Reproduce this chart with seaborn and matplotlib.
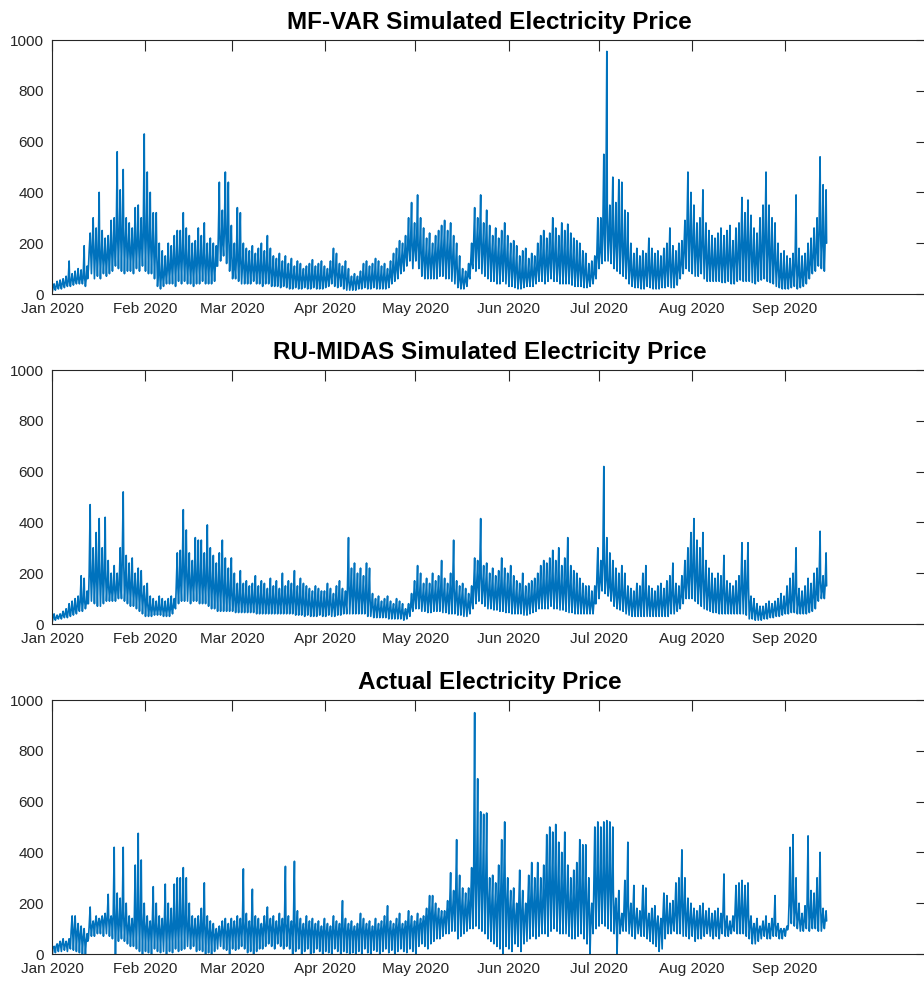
import numpy as np
import pandas as pd
import matplotlib
matplotlib.use("Agg")
import matplotlib.pyplot as plt
import matplotlib.dates as mdates
import seaborn as sns

# Hourly price series, 1 Jan 2020 .. 14 Sep 2020 (258 days), summarised per day:
# *_low  = overnight minimum, *_body = usual daytime level, *_high = daily peak
mfvar_high = [
    40, 50, 55, 60, 70, 130, 80, 90, 100, 95,
    190, 110, 240, 300, 260, 400, 250, 220, 230, 290,
    300, 560, 410, 490, 300, 280, 260, 340, 350, 300,
    630, 480, 400, 320, 320, 200, 170, 150, 200, 190,
    230, 250, 250, 320, 260, 230, 200, 210, 260, 230,
    280, 200, 220, 200, 190, 440, 330, 480, 440, 270,
    200, 340, 320, 200, 180, 170, 190, 160, 180, 200,
    170, 230, 180, 150, 140, 160, 130, 150, 120, 140,
    110, 130, 120, 100, 110, 120, 135, 110, 120, 130,
    110, 100, 130, 180, 160, 120, 110, 130, 100, 70,
    80, 70, 90, 120, 130, 110, 120, 140, 130, 110,
    120, 100, 130, 160, 180, 210, 200, 230, 300, 360,
    280, 390, 300, 260, 220, 240, 200, 230, 250, 270,
    290, 250, 280, 230, 200, 150, 100, 90, 120, 200,
    340, 300, 390, 280, 330, 270, 230, 260, 220, 250,
    280, 230, 200, 210, 190, 150, 170, 180, 140, 160,
    150, 200, 230, 250, 220, 240, 300, 260, 230, 280,
    250, 275, 240, 220, 210, 200, 170, 160, 120, 130,
    150, 300, 300, 550, 955, 350, 460, 360, 450, 440,
    330, 320, 200, 160, 180, 150, 170, 160, 220, 180,
    160, 170, 150, 180, 200, 260, 190, 170, 200, 210,
    290, 480, 400, 350, 280, 300, 410, 280, 250, 230,
    220, 240, 260, 230, 250, 270, 210, 260, 280, 380,
    320, 370, 310, 260, 240, 300, 350, 480, 350, 300,
    280, 200, 160, 170, 150, 140, 160, 390, 180, 150,
    160, 200, 220, 260, 300, 540, 430, 410,
]
mfvar_body = [
    25, 30, 35, 40, 45, 50, 55, 55, 60, 60,
    65, 60, 170, 180, 150, 160, 150, 140, 150, 170,
    180, 220, 230, 230, 200, 180, 170, 190, 200, 190,
    240, 230, 200, 180, 160, 80, 70, 80, 100, 110,
    130, 130, 140, 150, 130, 120, 110, 120, 130, 130,
    130, 120, 120, 110, 110, 230, 200, 250, 220, 150,
    100, 140, 130, 110, 100, 100, 100, 100, 100, 100,
    100, 100, 90, 80, 80, 80, 75, 70, 70, 70,
    65, 60, 60, 60, 60, 60, 60, 65, 60, 60,
    60, 60, 70, 90, 80, 70, 70, 65, 50, 40,
    45, 45, 50, 60, 60, 60, 60, 65, 60, 60,
    60, 60, 70, 90, 100, 120, 130, 150, 180, 200,
    180, 200, 170, 140, 130, 130, 130, 140, 150, 160,
    160, 150, 150, 130, 110, 60, 50, 50, 70, 120,
    200, 190, 210, 170, 180, 160, 140, 140, 130, 130,
    140, 120, 110, 100, 90, 70, 70, 70, 70, 80,
    80, 100, 120, 130, 120, 130, 150, 140, 120, 140,
    130, 130, 120, 110, 100, 100, 90, 80, 60, 70,
    80, 150, 170, 250, 300, 220, 250, 200, 220, 200,
    170, 150, 100, 80, 80, 80, 80, 80, 100, 90,
    80, 80, 80, 90, 100, 120, 100, 90, 100, 120,
    170, 250, 220, 200, 160, 160, 200, 150, 130, 130,
    120, 130, 130, 120, 130, 140, 120, 140, 150, 200,
    180, 190, 170, 140, 130, 160, 180, 220, 170, 150,
    130, 100, 70, 70, 70, 70, 80, 120, 80, 70,
    80, 100, 120, 150, 170, 250, 200, 200,
]
mfvar_low = [
    10, 15, 20, 20, 25, 30, 30, 35, 40, 40,
    40, 30, 100, 80, 60, 70, 60, 80, 70, 80,
    90, 110, 100, 90, 80, 90, 90, 80, 100, 90,
    110, 90, 80, 80, 60, 30, 20, 30, 40, 40,
    40, 30, 50, 40, 50, 40, 40, 30, 40, 40,
    50, 40, 40, 40, 50, 110, 130, 150, 120, 90,
    60, 60, 50, 40, 40, 40, 40, 50, 40, 40,
    30, 40, 40, 30, 30, 30, 25, 30, 25, 20,
    20, 25, 20, 20, 25, 20, 20, 25, 20, 20,
    20, 25, 30, 40, 30, 25, 30, 20, 15, 15,
    15, 15, 20, 20, 25, 20, 20, 25, 20, 20,
    20, 20, 25, 40, 50, 60, 80, 90, 110, 130,
    100, 130, 100, 70, 60, 60, 60, 60, 60, 70,
    70, 60, 60, 50, 40, 25, 20, 20, 30, 60,
    100, 90, 100, 80, 70, 60, 50, 50, 40, 40,
    50, 40, 30, 30, 25, 20, 20, 25, 30, 30,
    30, 40, 50, 50, 40, 50, 60, 50, 50, 40,
    40, 40, 40, 35, 30, 30, 30, 25, 25, 30,
    40, 60, 100, 120, 130, 130, 120, 100, 90, 80,
    70, 60, 40, 30, 25, 25, 20, 20, 30, 25,
    20, 20, 20, 25, 25, 30, 25, 25, 35, 60,
    80, 100, 90, 80, 70, 70, 80, 60, 50, 50,
    50, 50, 50, 45, 45, 50, 40, 40, 50, 55,
    50, 50, 50, 45, 40, 50, 55, 60, 50, 45,
    40, 30, 25, 20, 20, 20, 25, 30, 20, 25,
    30, 40, 60, 80, 90, 110, 100, 90,
]

midas_high = [
    40, 35, 40, 50, 60, 80, 90, 100, 110, 190,
    180, 130, 470, 300, 360, 415, 300, 420, 250, 200,
    230, 200, 300, 520, 270, 240, 260, 200, 220, 210,
    150, 160, 110, 100, 90, 110, 100, 90, 100, 110,
    100, 280, 290, 450, 370, 280, 250, 340, 330, 330,
    280, 390, 300, 270, 240, 280, 330, 260, 220, 260,
    200, 160, 210, 160, 170, 150, 160, 190, 150, 170,
    160, 140, 180, 150, 170, 140, 200, 150, 170, 160,
    210, 150, 180, 160, 150, 140, 130, 150, 140, 130,
    130, 160, 140, 120, 150, 170, 140, 130, 340, 220,
    240, 200, 220, 190, 240, 220, 120, 100, 110, 90,
    100, 110, 90, 80, 100, 90, 80, 60, 80, 120,
    170, 230, 200, 160, 180, 160, 200, 170, 190, 250,
    180, 160, 200, 330, 170, 150, 160, 140, 120, 150,
    260, 250, 415, 230, 240, 200, 220, 190, 210, 260,
    220, 200, 230, 190, 170, 160, 200, 150, 160, 170,
    180, 200, 230, 250, 240, 260, 290, 250, 300, 230,
    260, 340, 230, 210, 200, 180, 160, 150, 150, 130,
    150, 300, 250, 620, 340, 280, 250, 220, 200, 230,
    200, 150, 140, 130, 160, 150, 200, 230, 150, 140,
    130, 150, 160, 140, 170, 190, 240, 160, 150, 190,
    250, 300, 360, 415, 330, 300, 360, 250, 220, 200,
    180, 200, 190, 270, 170, 160, 150, 170, 190, 320,
    250, 320, 110, 100, 80, 70, 70, 80, 90, 80,
    90, 100, 120, 110, 150, 180, 200, 300, 140, 130,
    150, 180, 160, 200, 220, 365, 190, 280,
]
midas_body = [
    25, 25, 30, 35, 40, 50, 55, 60, 70, 90,
    90, 80, 200, 180, 180, 200, 170, 190, 150, 130,
    140, 140, 160, 250, 160, 150, 150, 130, 130, 120,
    100, 80, 60, 60, 60, 60, 60, 55, 60, 60,
    70, 150, 160, 220, 200, 170, 160, 180, 180, 170,
    160, 180, 160, 150, 140, 140, 150, 130, 120, 120,
    100, 90, 100, 90, 90, 90, 90, 95, 90, 90,
    90, 85, 90, 90, 90, 85, 95, 85, 90, 90,
    95, 85, 90, 85, 80, 80, 75, 80, 75, 75,
    75, 80, 80, 70, 80, 85, 80, 80, 150, 120,
    120, 110, 110, 100, 110, 100, 70, 60, 60, 55,
    55, 60, 55, 50, 55, 50, 45, 40, 50, 70,
    100, 120, 110, 100, 100, 95, 110, 100, 110, 120,
    100, 95, 110, 140, 100, 90, 90, 80, 70, 90,
    150, 150, 190, 140, 140, 120, 120, 110, 120, 130,
    120, 110, 120, 100, 95, 90, 100, 85, 85, 95,
    100, 110, 120, 130, 130, 140, 150, 140, 150, 130,
    130, 160, 120, 110, 100, 100, 90, 85, 80, 75,
    80, 170, 170, 250, 180, 150, 140, 120, 110, 120,
    110, 90, 80, 75, 85, 80, 100, 110, 80, 75,
    75, 80, 85, 80, 90, 100, 120, 90, 90, 110,
    150, 170, 200, 220, 180, 160, 180, 140, 120, 110,
    100, 110, 105, 130, 100, 95, 90, 95, 100, 150,
    130, 150, 60, 55, 45, 40, 40, 45, 50, 50,
    55, 60, 65, 65, 80, 90, 100, 130, 80, 75,
    80, 90, 90, 110, 120, 170, 130, 150,
]
midas_low = [
    10, 15, 20, 20, 25, 25, 30, 35, 40, 50,
    50, 60, 80, 90, 80, 70, 70, 80, 90, 90,
    90, 90, 100, 100, 90, 80, 70, 70, 60, 50,
    40, 30, 30, 30, 35, 35, 35, 30, 30, 30,
    40, 60, 80, 90, 90, 90, 80, 90, 90, 80,
    80, 80, 70, 60, 60, 50, 50, 50, 50, 50,
    50, 45, 45, 45, 45, 45, 45, 45, 40, 40,
    40, 40, 40, 40, 40, 40, 40, 40, 40, 40,
    40, 35, 35, 35, 30, 35, 30, 30, 30, 35,
    30, 30, 35, 30, 30, 35, 35, 40, 40, 40,
    40, 40, 40, 40, 40, 30, 30, 25, 25, 25,
    25, 25, 20, 20, 20, 20, 20, 15, 20, 30,
    50, 60, 60, 50, 50, 45, 45, 50, 50, 50,
    45, 45, 40, 40, 40, 35, 35, 30, 30, 40,
    60, 80, 90, 80, 70, 60, 60, 55, 55, 50,
    50, 45, 45, 40, 40, 40, 40, 35, 35, 40,
    45, 50, 60, 60, 60, 60, 70, 60, 60, 55,
    55, 50, 45, 45, 40, 40, 40, 40, 40, 40,
    40, 80, 100, 130, 120, 110, 90, 70, 60, 55,
    50, 40, 35, 30, 30, 30, 30, 30, 30, 30,
    30, 30, 30, 30, 30, 30, 40, 40, 50, 60,
    80, 100, 100, 100, 90, 80, 70, 60, 55, 50,
    45, 45, 40, 40, 40, 40, 40, 40, 40, 40,
    40, 35, 20, 20, 15, 15, 15, 20, 20, 25,
    25, 30, 30, 35, 40, 40, 45, 45, 40, 40,
    40, 40, 45, 50, 60, 90, 100, 100,
]

actual_high = [
    30, 40, 50, 60, 50, 60, 150, 150, 120, 110,
    100, 80, 185, 130, 150, 140, 150, 160, 235, 150,
    420, 240, 220, 420, 200, 150, 140, 350, 475, 370,
    200, 150, 130, 265, 200, 150, 140, 275, 200, 180,
    275, 300, 300, 340, 300, 200, 150, 140, 150, 180,
    280, 150, 130, 120, 100, 110, 130, 140, 120, 140,
    130, 150, 140, 335, 160, 130, 255, 150, 140, 120,
    150, 185, 140, 150, 130, 160, 140, 345, 150, 130,
    365, 170, 140, 120, 150, 130, 140, 120, 130, 110,
    140, 120, 110, 150, 130, 120, 210, 140, 120, 130,
    110, 120, 160, 140, 120, 130, 110, 140, 120, 130,
    150, 190, 130, 120, 140, 160, 120, 130, 170, 150,
    130, 160, 140, 150, 180, 230, 230, 200, 180, 170,
    170, 210, 320, 250, 450, 310, 260, 240, 260, 340,
    950, 690, 560, 550, 555, 300, 310, 280, 350, 450,
    520, 300, 250, 260, 200, 330, 250, 200, 310, 360,
    300, 360, 300, 350, 470, 500, 480, 510, 440, 400,
    480, 350, 300, 330, 360, 450, 430, 430, 300, 200,
    500, 520, 500, 520, 525, 520, 500, 220, 250, 160,
    290, 440, 200, 270, 180, 170, 270, 260, 160, 180,
    190, 150, 140, 240, 230, 200, 210, 280, 300, 410,
    300, 220, 200, 180, 170, 190, 200, 170, 180, 160,
    170, 180, 160, 315, 150, 130, 150, 270, 280, 290,
    270, 280, 150, 120, 140, 110, 130, 150, 120, 140,
    230, 120, 100, 100, 110, 420, 470, 300, 200, 160,
    190, 465, 250, 240, 300, 400, 180, 170,
]
actual_body = [
    25, 30, 35, 40, 35, 40, 90, 90, 80, 70,
    60, 50, 110, 110, 120, 120, 130, 130, 140, 130,
    150, 130, 120, 150, 120, 100, 100, 120, 150, 130,
    110, 100, 90, 110, 100, 90, 90, 110, 100, 100,
    110, 110, 120, 130, 120, 100, 90, 90, 90, 100,
    110, 90, 80, 80, 70, 80, 90, 90, 80, 90,
    90, 95, 90, 110, 100, 90, 100, 90, 90, 90,
    100, 110, 100, 100, 90, 100, 100, 120, 100, 90,
    120, 100, 90, 85, 90, 85, 90, 85, 85, 80,
    90, 85, 80, 90, 85, 85, 100, 90, 85, 90,
    85, 85, 95, 90, 85, 90, 80, 90, 85, 90,
    95, 100, 90, 85, 95, 100, 90, 95, 110, 100,
    95, 110, 110, 120, 130, 150, 150, 140, 130, 130,
    130, 150, 180, 170, 220, 190, 170, 160, 170, 200,
    300, 300, 280, 270, 260, 180, 170, 160, 190, 220,
    250, 180, 160, 160, 140, 180, 150, 140, 180, 200,
    180, 200, 180, 200, 250, 260, 250, 260, 230, 220,
    240, 200, 180, 190, 200, 230, 220, 220, 170, 130,
    250, 270, 260, 270, 280, 270, 260, 150, 150, 120,
    160, 200, 130, 150, 130, 120, 150, 150, 120, 120,
    120, 110, 90, 140, 140, 130, 130, 160, 170, 200,
    170, 140, 130, 130, 120, 130, 130, 120, 120, 110,
    120, 120, 110, 160, 110, 100, 110, 160, 160, 170,
    160, 160, 110, 90, 100, 90, 100, 100, 90, 100,
    120, 100, 90, 90, 95, 200, 220, 170, 140, 120,
    130, 200, 150, 150, 170, 200, 130, 130,
]
actual_low = [
    0, 5, 10, 10, 15, 10, 20, 15, 10, 5,
    0, 0, 60, 70, 70, 80, 80, 70, 80, 70,
    60, 0, 50, 60, 50, 40, 30, 30, 20, 10,
    0, 10, 5, 0, 20, 10, 5, 10, 0, 10,
    5, 20, 10, 15, 20, 30, 20, 30, 10, 15,
    10, 0, 5, 0, 10, 20, 30, 20, 15, 0,
    20, 15, 20, 30, 20, 5, 10, 0, 10, 20,
    20, 30, 40, 30, 20, 40, 30, 20, 30, 20,
    0, 10, 20, 0, 10, 20, 0, 5, 20, 10,
    0, 10, 5, 0, 20, 10, 0, 10, 5, 0,
    5, 0, 10, 0, 20, 5, 0, 15, 10, 0,
    10, 20, 5, 15, 0, 10, 20, 10, 5, 20,
    10, 0, 30, 40, 30, 20, 40, 50, 60, 60,
    70, 80, 80, 90, 90, 60, 70, 80, 90, 100,
    100, 110, 100, 90, 80, 60, 50, 40, 30, 20,
    0, 30, 20, 10, 40, 30, 10, 40, 50, 60,
    70, 60, 70, 80, 80, 70, 90, 100, 90, 80,
    80, 80, 70, 60, 60, 70, 80, 60, 40, 0,
    80, 100, 110, 120, 110, 100, 90, 80, 0, 80,
    90, 90, 80, 70, 60, 80, 70, 70, 60, 50,
    40, 30, 10, 20, 60, 80, 80, 90, 80, 80,
    70, 70, 60, 70, 50, 60, 60, 70, 80, 70,
    60, 70, 60, 80, 70, 70, 80, 90, 80, 80,
    80, 70, 60, 40, 40, 50, 60, 70, 60, 60,
    70, 70, 60, 60, 70, 110, 120, 110, 100, 90,
    90, 100, 90, 100, 100, 90, 90, 100,
]

titles = [
    "MF-VAR Simulated Electricity Price",
    "RU-MIDAS Simulated Electricity Price",
    "Actual Electricity Price",
]
series = [
    (mfvar_low, mfvar_body, mfvar_high),
    (midas_low, midas_body, midas_high),
    (actual_low, actual_body, actual_high),
]
month_ticks = pd.date_range("2020-01-01", "2020-09-01", freq="MS")
start = pd.Timestamp("2020-01-01")
x_end = start + pd.Timedelta(days=291.3)

LINE = "#0072BD"
AX = "#262626"

# hour of day at which each daily reading is placed
HOURS = [3, 9, 17, 21]


def daily_frame(low, body, high):
    """Night low, morning level, evening peak and late level for each day."""
    n = len(low)
    days = start + pd.to_timedelta(np.arange(n), unit="D")
    parts = [low, body, high, body]
    times = np.empty(4 * n, dtype="datetime64[ns]")
    vals = np.empty(4 * n)
    for k, (hr, part) in enumerate(zip(HOURS, parts)):
        times[k::4] = (days + pd.Timedelta(hours=hr)).values
        vals[k::4] = part
    return pd.DataFrame({"time": times, "price": vals})


sns.set_theme(style="white")
plt.rcParams["font.family"] = ["Liberation Sans", "DejaVu Sans"]

W, H = 924, 981
fig = plt.figure(figsize=(W / 100, H / 100), dpi=100)

left_px, right_px = 52, 927
tops_px = [40, 370, 700]
h_px = 254

for top, title, (low, body, high) in zip(tops_px, titles, series):
    ax = fig.add_axes([left_px / W, 1 - (top + h_px) / H,
                       (right_px - left_px) / W, h_px / H])
    df = daily_frame(low, body, high)
    sns.lineplot(data=df, x="time", y="price", ax=ax, color=LINE,
                 linewidth=1.2, estimator=None)
    ax.set_xlim(start, x_end)
    ax.set_ylim(0, 1000)
    ax.set_yticks(range(0, 1001, 200))
    ax.set_xticks(month_ticks)
    ax.xaxis.set_major_formatter(mdates.DateFormatter("%b %Y"))
    ax.set_xlabel("")
    ax.set_ylabel("")
    ax.tick_params(axis="both", direction="in", length=8, width=0.8,
                   top=True, right=True, colors=AX, labelsize=11)
    ax.tick_params(axis="y", pad=6)
    ax.tick_params(axis="x", pad=6)
    for sp in ax.spines.values():
        sp.set_visible(True)
        sp.set_color(AX)
        sp.set_linewidth(0.8)
    ax.set_title(title, fontsize=17.5, fontweight="bold", color="black", pad=8)

fig.savefig("out.png", dpi=100)
